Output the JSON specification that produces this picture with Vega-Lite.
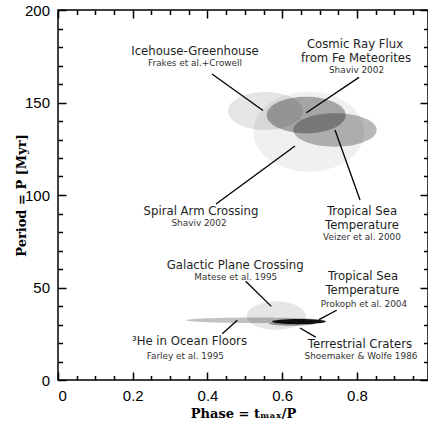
{
  "$schema": "https://vega.github.io/schema/vega-lite/v6.json",
  "width": 370,
  "height": 370,
  "autosize": {"type": "none"},
  "padding": {"left": 58, "top": 10, "right": 0, "bottom": 46},
  "background": "white",
  "config": {
    "view": {"stroke": "black", "strokeWidth": 1.5},
    "axis": {
      "grid": false,
      "domain": false,
      "tickColor": "black",
      "tickWidth": 1.5,
      "labelFont": "Liberation Sans",
      "labelFontSize": 15,
      "labelColor": "black",
      "titleFont": "DejaVu Serif",
      "titleFontWeight": "bold",
      "titleFontSize": 13,
      "titleColor": "black"
    }
  },
  "datasets": {
    "ellipses": [
      {"name": "Spiral Arm Crossing", "phase": 0.671, "period": 134.2},
      {"name": "Icehouse-Greenhouse", "phase": 0.5552, "period": 145.4},
      {"name": "Cosmic Ray Flux", "phase": 0.6641, "period": 143.2},
      {"name": "Tropical Sea Temperature (Veizer)", "phase": 0.7412, "period": 135.1},
      {"name": "Galactic Plane Crossing", "phase": 0.5838, "period": 34.7},
      {"name": "3He in Ocean Floors", "phase": 0.5271, "period": 32.3},
      {"name": "Terrestrial Craters", "phase": 0.6261, "period": 30.5},
      {"name": "Tropical Sea Temperature (Prokoph)", "phase": 0.6448, "period": 31.6}
    ],
    "leaders": [
      {"name": "Icehouse-Greenhouse", "x1": 0.412, "y1": 165.4, "x2": 0.5485, "y2": 145.7},
      {"name": "Cosmic Ray Flux", "x1": 0.8054, "y1": 163.6, "x2": 0.6644, "y2": 144.5},
      {"name": "Spiral Arm Crossing", "x1": 0.4228, "y1": 95.1, "x2": 0.6341, "y2": 126.5},
      {"name": "Tropical Sea Temperature (Veizer)", "x1": 0.7412, "y1": 135.1, "x2": 0.8081, "y2": 97.3},
      {"name": "Galactic Plane Crossing", "x1": 0.5022, "y1": 53.4, "x2": 0.5707, "y2": 39.8},
      {"name": "3He in Ocean Floors", "x1": 0.4797, "y1": 32.3, "x2": 0.4396, "y2": 25.0},
      {"name": "Tropical Sea Temperature (Prokoph)", "x1": 0.7457, "y1": 37.7, "x2": 0.6983, "y2": 32.6},
      {"name": "Terrestrial Craters", "x1": 0.6475, "y1": 28.1, "x2": 0.6895, "y2": 23.2}
    ],
    "labels": [
      {"text": "Icehouse-Greenhouse", "phase": 0.3666, "period": 177.6},
      {"text": "Cosmic Ray Flux", "phase": 0.7947, "period": 181.6},
      {"text": "from Fe Meteorites", "phase": 0.7973, "period": 173.8},
      {"text": "Spiral Arm Crossing", "phase": 0.3826, "period": 91.4},
      {"text": "Tropical Sea", "phase": 0.8134, "period": 91.4},
      {"text": "Temperature", "phase": 0.8134, "period": 83.9},
      {"text": "Galactic Plane Crossing", "phase": 0.4741, "period": 62.1},
      {"text": "Tropical Sea", "phase": 0.8161, "period": 56.4},
      {"text": "Temperature", "phase": 0.8147, "period": 48.5},
      {"text": "³He in Ocean Floors", "phase": 0.3518, "period": 20.9},
      {"text": "Terrestrial Craters", "phase": 0.808, "period": 19.6}
    ],
    "sources": [
      {"text": "Frakes et al.+Crowell", "phase": 0.3666, "period": 171.4},
      {"text": "Shaviv 2002", "phase": 0.7987, "period": 167.3},
      {"text": "Shaviv 2002", "phase": 0.3773, "period": 84.9},
      {"text": "Veizer et al. 2000", "phase": 0.8134, "period": 77.3},
      {"text": "Matese et al. 1995", "phase": 0.4757, "period": 55.7},
      {"text": "Prokoph et al. 2004", "phase": 0.8187, "period": 41.2},
      {"text": "Farley et al. 1995", "phase": 0.3406, "period": 13.1},
      {"text": "Shoemaker & Wolfe 1986", "phase": 0.8107, "period": 13.1}
    ]
  },
  "layer": [
    {
      "data": {"name": "ellipses"},
      "mark": {"type": "point", "filled": true, "opacity": 1, "strokeWidth": 0, "size": 40000},
      "encoding": {
        "x": {
          "field": "phase", "type": "quantitative",
          "scale": {"domain": [0, 0.99], "nice": false, "zero": false},
          "axis": {"orient": "bottom", "values": [0, 0.2, 0.4, 0.6, 0.8], "format": ".1~f", "tickSize": -8, "labelPadding": 16, "title": "Phase = tₘₐₓ/P", "titleY": 37, "titleBaseline": "alphabetic"}
        },
        "y": {
          "field": "period", "type": "quantitative",
          "scale": {"domain": [0, 200], "nice": false},
          "axis": {"orient": "left", "values": [0, 50, 100, 150, 200], "format": "d", "tickSize": -8, "labelPadding": 16.5, "title": "Period = P [Myr]", "titleX": -33, "titleBaseline": "alphabetic"}
        },
        "shape": {
          "field": "name", "type": "nominal", "legend": null,
          "scale": {
            "domain": ["Spiral Arm Crossing", "Icehouse-Greenhouse", "Cosmic Ray Flux", "Tropical Sea Temperature (Veizer)", "Galactic Plane Crossing", "3He in Ocean Floors", "Terrestrial Craters", "Tropical Sea Temperature (Prokoph)"],
            "range": [
              "M-0.555,0A0.555,0.4 0 1,0 0.555,0A0.555,0.4 0 1,0 -0.555,0Z",
              "M-0.375,0A0.375,0.19 0 1,0 0.375,0A0.375,0.19 0 1,0 -0.375,0Z",
              "M-0.395,0A0.395,0.183 0 1,0 0.395,0A0.395,0.183 0 1,0 -0.395,0Z",
              "M-0.417,0A0.417,0.167 0 1,0 0.417,0A0.417,0.167 0 1,0 -0.417,0Z",
              "M-0.295,0A0.295,0.142 0 1,0 0.295,0A0.295,0.142 0 1,0 -0.295,0Z",
              "M-0.69,0A0.69,0.028 0 1,0 0.69,0A0.69,0.028 0 1,0 -0.69,0Z",
              "M-0.23,0A0.23,0.022 0 1,0 0.23,0A0.23,0.022 0 1,0 -0.23,0Z",
              "M-0.27,0A0.27,0.026 0 1,0 0.27,0A0.27,0.026 0 1,0 -0.27,0Z"
            ]
          }
        },
        "fill": {
          "field": "name", "type": "nominal", "legend": null,
          "scale": {
            "domain": ["Spiral Arm Crossing", "Icehouse-Greenhouse", "Cosmic Ray Flux", "Tropical Sea Temperature (Veizer)", "Galactic Plane Crossing", "3He in Ocean Floors", "Terrestrial Craters", "Tropical Sea Temperature (Prokoph)"],
            "range": ["rgba(0,0,0,0.06)", "rgba(0,0,0,0.1)", "rgba(0,0,0,0.31)", "rgba(0,0,0,0.28)", "rgba(0,0,0,0.1)", "rgba(0,0,0,0.24)", "rgba(0,0,0,0.4)", "rgba(0,0,0,0.92)"]
          }
        }
      }
    },
    {
      "data": {"name": "leaders"},
      "mark": {"type": "rule", "color": "black", "strokeWidth": 1.3},
      "encoding": {
        "x": {
          "field": "x1", "type": "quantitative",
          "scale": {"domain": [0, 0.99], "nice": false, "zero": false},
          "axis": {"orient": "bottom", "values": [0.05, 0.1, 0.15, 0.25, 0.3, 0.35, 0.45, 0.5, 0.55, 0.65, 0.7, 0.75, 0.85, 0.9, 0.95], "tickSize": -4.5, "labels": false, "title": null}
        },
        "y": {
          "field": "y1", "type": "quantitative",
          "scale": {"domain": [0, 200], "nice": false},
          "axis": {"orient": "left", "values": [10, 20, 30, 40, 60, 70, 80, 90, 110, 120, 130, 140, 160, 170, 180, 190], "tickSize": -4.5, "labels": false, "title": null}
        },
        "x2": {"field": "x2"},
        "y2": {"field": "y2"}
      }
    },
    {
      "data": {"name": "labels"},
      "mark": {"type": "text", "font": "DejaVu Sans", "fontSize": 11.7, "color": "#1e1e1e", "align": "center", "baseline": "middle"},
      "encoding": {
        "x": {
          "field": "phase", "type": "quantitative",
          "scale": {"domain": [0, 0.99], "nice": false, "zero": false},
          "axis": {"orient": "top", "values": [0, 0.2, 0.4, 0.6, 0.8], "tickSize": -8, "labels": false, "title": null}
        },
        "y": {
          "field": "period", "type": "quantitative",
          "scale": {"domain": [0, 200], "nice": false},
          "axis": {"orient": "right", "values": [0, 50, 100, 150, 200], "tickSize": -8, "labels": false, "title": null}
        },
        "text": {"field": "text"}
      }
    },
    {
      "data": {"name": "sources"},
      "mark": {"type": "text", "font": "DejaVu Sans", "fontSize": 8.9, "color": "#333333", "align": "center", "baseline": "middle"},
      "encoding": {
        "x": {
          "field": "phase", "type": "quantitative",
          "scale": {"domain": [0, 0.99], "nice": false, "zero": false},
          "axis": {"orient": "top", "values": [0.05, 0.1, 0.15, 0.25, 0.3, 0.35, 0.45, 0.5, 0.55, 0.65, 0.7, 0.75, 0.85, 0.9, 0.95], "tickSize": -4.5, "labels": false, "title": null}
        },
        "y": {
          "field": "period", "type": "quantitative",
          "scale": {"domain": [0, 200], "nice": false},
          "axis": {"orient": "right", "values": [10, 20, 30, 40, 60, 70, 80, 90, 110, 120, 130, 140, 160, 170, 180, 190], "tickSize": -4.5, "labels": false, "title": null}
        },
        "text": {"field": "text"}
      }
    }
  ],
  "resolve": {"axis": {"x": "independent", "y": "independent"}}
}
